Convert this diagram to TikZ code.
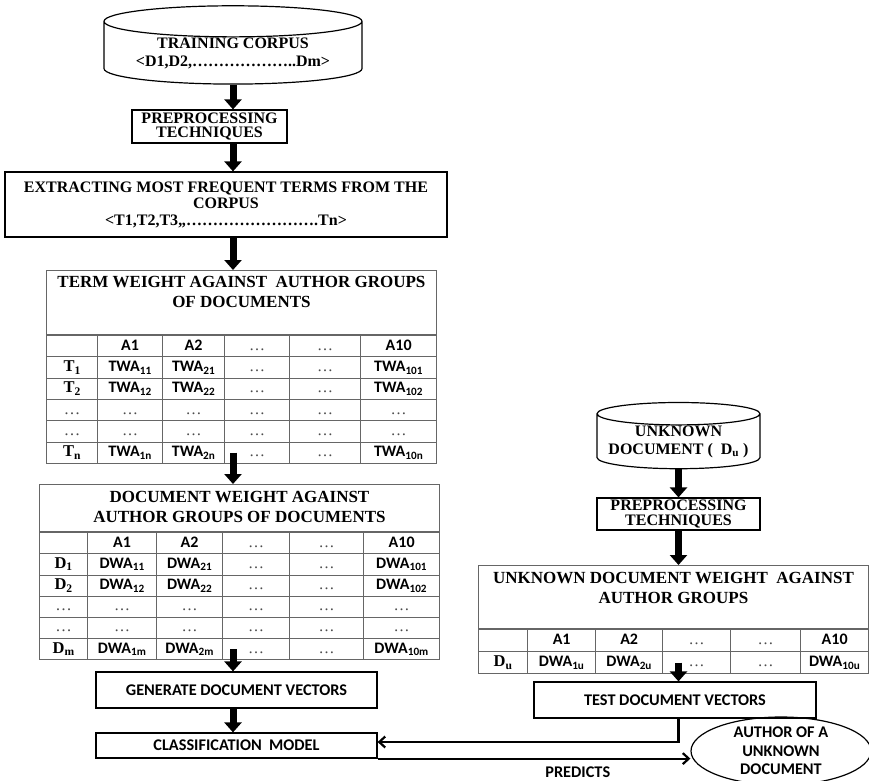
\documentclass[tikz,border=0pt]{standalone}
\usepackage{fontspec}
\setmainfont{Liberation Serif}
\newfontfamily\calfont{Carlito}
\usetikzlibrary{arrows.meta,positioning,shapes.geometric,matrix}
\newcommand{\gdots}{{\rmfamily\mdseries\color{black!70}\ldots}}
\newcommand{\tsub}[1]{\textsubscript{#1}}

\begin{document}
\begin{tikzpicture}[
  x=1pt,y=-1pt,inner sep=0pt,
  font=\fontsize{16}{18}\selectfont\bfseries,
  box/.style={draw,line width=1.2pt,align=center},
  store/.style={cylinder,shape border rotate=90,aspect=0.16,draw,line width=1.2pt,align=center},
  lbl/.style={font=\calfont\fontsize{16.3}{18.5}\selectfont\bfseries},
  ttl/.style={align=center,font=\fontsize{17}{20}\selectfont\bfseries},
  tabline/.style={draw=black!60,line width=0.9pt},
  tbl/.style={matrix of nodes,nodes in empty cells,anchor=north west,
    row sep=-0.9pt,column sep=-0.9pt,
    nodes={tabline,minimum height=#1,text height=11pt,text depth=3pt,
      font=\calfont\fontsize{16}{16}\selectfont\bfseries}},
  rowlbl/.style={nodes={font=\fontsize{16.5}{16.5}\selectfont\bfseries}},
  barr/.style={line width=7pt,-{Triangle[length=10pt,width=17pt]}},
  tarr/.style={line width=2.2pt,-{Straight Barb[length=6pt,width=11pt]}},
]
\useasboundingbox (0,0) rectangle (869,780);

% training side
\node[store,minimum width=258pt,minimum height=65pt,font=\fontsize{16}{18}\selectfont\bfseries] (train) at (233,53)
  {TRAINING CORPUS\\<D1,D2,\ldots\ldots\ldots\ldots\ldots\ldots..Dm>};
\node[box,minimum width=155pt,minimum height=33pt,font=\fontsize{16}{14.5}\selectfont\bfseries] (pre1) at (209.5,126.5)
  {PREPROCESSING\\TECHNIQUES};
\node[box,minimum width=442pt,minimum height=65pt,font=\fontsize{16}{16.5}\selectfont\bfseries] (ext) at (226,204.5)
  {EXTRACTING MOST FREQUENT TERMS FROM THE\\CORPUS\\<T1,T2,T3,,\ldots\ldots\ldots\ldots\ldots\ldots\ldots\ldots.Tn>};

% term weight table
\node[tabline,minimum width=390pt,minimum height=64pt,anchor=north west] (tw) at (46,270) {};
\node[ttl,below=6pt of tw.north] (twhead) {TERM WEIGHT AGAINST\ \ AUTHOR GROUPS\\OF DOCUMENTS};
\matrix[tbl=21.3pt,
  column 1/.style={rowlbl,nodes={minimum width=51pt}},
  column 2/.style={nodes={minimum width=65pt}},
  column 3/.style={nodes={minimum width=62pt}},
  column 4/.style={nodes={minimum width=65pt}},
  column 5/.style={nodes={minimum width=71pt}},
  column 6/.style={nodes={minimum width=76pt}}] (twm) at (tw.south west) {
  & A1 & A2 & \gdots & \gdots & A10\\
  T\tsub{1} & TWA\tsub{11} & TWA\tsub{21} & \gdots & \gdots & TWA\tsub{101}\\
  T\tsub{2} & TWA\tsub{12} & TWA\tsub{22} & \gdots & \gdots & TWA\tsub{102}\\
  \gdots & \gdots & \gdots & \gdots & \gdots & \gdots\\
  \gdots & \gdots & \gdots & \gdots & \gdots & \gdots\\
  T\tsub{n} & TWA\tsub{1n} & TWA\tsub{2n} & \gdots & \gdots & TWA\tsub{10n}\\
};

% document weight table
\node[tabline,minimum width=400pt,minimum height=47pt,anchor=north west] (dw) at (39,484) {};
\node[ttl,below=7pt of dw.north] (dwhead) {DOCUMENT WEIGHT AGAINST\\AUTHOR GROUPS OF DOCUMENTS};
\matrix[tbl=21.2pt,
  column 1/.style={rowlbl,nodes={minimum width=48pt}},
  column 2/.style={nodes={minimum width=69pt}},
  column 3/.style={nodes={minimum width=66pt}},
  column 4/.style={nodes={minimum width=67pt}},
  column 5/.style={nodes={minimum width=74pt}},
  column 6/.style={nodes={minimum width=76pt}}] (dwm) at (dw.south west) {
  & A1 & A2 & \gdots & \gdots & A10\\
  D\tsub{1} & DWA\tsub{11} & DWA\tsub{21} & \gdots & \gdots & DWA\tsub{101}\\
  D\tsub{2} & DWA\tsub{12} & DWA\tsub{22} & \gdots & \gdots & DWA\tsub{102}\\
  \gdots & \gdots & \gdots & \gdots & \gdots & \gdots\\
  \gdots & \gdots & \gdots & \gdots & \gdots & \gdots\\
  D\tsub{m} & DWA\tsub{1m} & DWA\tsub{2m} & \gdots & \gdots & DWA\tsub{10m}\\
};

\node[box,lbl,minimum width=281pt,minimum height=36pt] (gen) at (236.5,690) {GENERATE DOCUMENT VECTORS};
\node[box,lbl,minimum width=281pt,minimum height=25pt] (clf) at (236.5,745.5) {CLASSIFICATION\ \ MODEL};

% unknown document side
\node[store,minimum width=163pt,minimum height=65pt,font=\fontsize{16}{18}\selectfont\bfseries] (unk) at (678.5,441.5)
  {UNKNOWN\\DOCUMENT (\ \ D\tsub{u} )};
\node[box,minimum width=163pt,minimum height=32pt,font=\fontsize{16}{14.5}\selectfont\bfseries] (pre2) at (678.5,514)
  {PREPROCESSING\\TECHNIQUES};
\node[tabline,minimum width=390pt,minimum height=63pt,anchor=north west] (ud) at (478,565) {};
\node[ttl,below=7pt of ud.north] (udhead) {UNKNOWN DOCUMENT WEIGHT\ \ AGAINST\\AUTHOR GROUPS};
\matrix[tbl=22pt,
  column 1/.style={rowlbl,nodes={minimum width=49pt}},
  column 2/.style={nodes={minimum width=68pt}},
  column 3/.style={nodes={minimum width=67pt}},
  column 4/.style={nodes={minimum width=68pt}},
  column 5/.style={nodes={minimum width=70pt}},
  column 6/.style={nodes={minimum width=68pt}}] (udm) at (ud.south west) {
  & A1 & A2 & \gdots & \gdots & A10\\
  D\tsub{u} & DWA\tsub{1u} & DWA\tsub{2u} & \gdots & \gdots & DWA\tsub{10u}\\
};
\node[box,lbl,minimum width=282pt,minimum height=36pt] (tst) at (675,700) {TEST DOCUMENT VECTORS};
\node[ellipse,draw,line width=1.2pt,lbl,align=center,minimum width=180pt,minimum height=68pt] (auth) at (781,751)
  {AUTHOR OF A\\UNKNOWN\\DOCUMENT};

% flow
\draw[barr] (train.south) -- (pre1.north -| train.south);
\draw[barr] (pre1.south -| train.south) -- (ext.north -| train.south);
\draw[barr] (ext.south -| train.south) -- (tw.north -| train.south);
\draw[barr] (twm-6-4.center -| train.south) -- (dw.north -| train.south);
\draw[barr] (dwm-6-4.center -| train.south) -- (gen.north -| train.south);
\draw[barr] (gen.south -| train.south) -- (clf.north -| train.south);
\draw[barr] (unk.south) -- (pre2.north);
\draw[barr] (pre2.south) -- (ud.north -| pre2.south);
\draw[barr] (udm-2-4.center -| pre2.south) -- (tst.north -| pre2.south);
\draw[tarr] (tst.south -| pre2.south) |- ([yshift=3.5pt]clf.east);
\draw[tarr] (clf.south east) -- (clf.south east -| auth.west)
  node[pos=0.64,below=7pt,lbl] (pred) {PREDICTS};
\end{tikzpicture}
\end{document}
